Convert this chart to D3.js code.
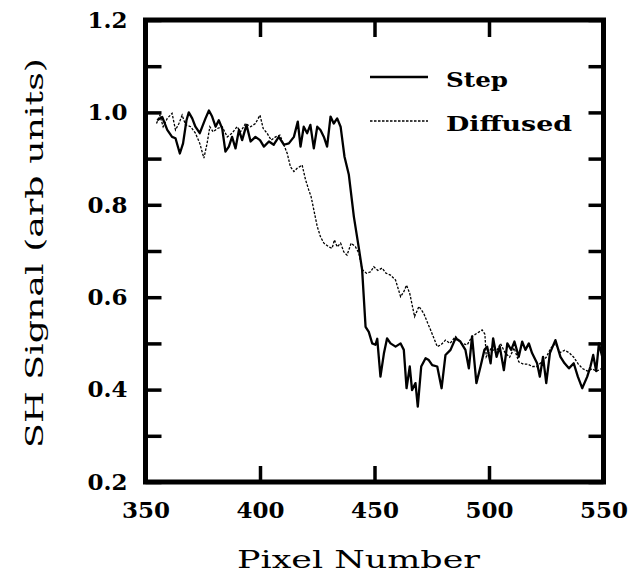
<!DOCTYPE html>
<html>
<head>
<meta charset="utf-8">
<script src="https://cdn.jsdelivr.net/npm/d3@7"></script>
<style>
  body { margin: 0; background: #fff; }
  svg text { font-family: "DejaVu Serif", "Liberation Serif", serif; fill: #000; }
</style>
</head>
<body>
<div id="chart"></div>
<script>
// Step profile (solid)
const stepPixel = [355.1, 357.3, 359.5, 361.6, 363.1, 365, 366.4, 367.9, 368.9, 370.4, 371.8, 373.7, 376.2, 377.7, 379.1, 380.6, 382, 383.5, 384.9, 386.4, 387.8, 389.3, 390.8, 392.2, 394.1, 395.9, 398, 400, 401.7, 403.9, 406, 408.2, 410.4, 412.6, 414.8, 416.5, 417.7, 419.1, 420.6, 422, 423.5, 425, 426.4, 427.9, 429.3, 430.8, 432.2, 433.7, 435.2, 436.9, 438.8, 441, 443.2, 444.6, 446.1, 447.5, 449, 450.4, 451.2, 452.6, 454.1, 455.5, 457, 459.2, 461.4, 462.8, 464, 465.4, 466.4, 467.9, 468.9, 470.4, 472.3, 473.7, 475.2, 477.4, 479.3, 481, 483.2, 485.4, 487.5, 489.7, 491.2, 492.6, 494.5, 496.3, 498, 499.2, 500.7, 501.8, 503.3, 504.7, 506.5, 508, 509.7, 511.1, 513, 514.5, 515.9, 517.4, 518.8, 521, 522.2, 523.6, 525, 526.6, 529, 531.2, 533, 534.9, 537, 538.8, 540.7, 542.9, 544.3, 545.5, 546.8, 548, 549.5];
const stepSignal = [0.983, 0.99, 0.962, 0.947, 0.944, 0.911, 0.933, 0.983, 1.0, 0.987, 0.969, 0.955, 0.987, 1.004, 0.991, 0.969, 0.983, 0.965, 0.915, 0.926, 0.947, 0.922, 0.962, 0.94, 0.973, 0.937, 0.947, 0.94, 0.926, 0.937, 0.93, 0.947, 0.93, 0.933, 0.947, 0.98, 0.926, 0.969, 0.955, 0.973, 0.922, 0.969, 0.962, 0.947, 0.926, 0.991, 0.976, 0.987, 0.969, 0.904, 0.865, 0.774, 0.705, 0.659, 0.536, 0.525, 0.50, 0.497, 0.51, 0.428, 0.478, 0.511, 0.50, 0.493, 0.50, 0.486, 0.403, 0.45, 0.399, 0.414, 0.363, 0.45, 0.468, 0.464, 0.453, 0.45, 0.403, 0.475, 0.486, 0.511, 0.504, 0.486, 0.446, 0.515, 0.414, 0.45, 0.486, 0.493, 0.457, 0.511, 0.471, 0.493, 0.442, 0.50, 0.486, 0.504, 0.471, 0.504, 0.486, 0.50, 0.479, 0.457, 0.428, 0.471, 0.414, 0.479, 0.507, 0.471, 0.457, 0.446, 0.457, 0.428, 0.403, 0.428, 0.45, 0.475, 0.44, 0.50, 0.47];

// Diffused profile (dashed)
const diffPixel = [354.8, 356.3, 357.7, 359.5, 361.6, 363.1, 364.6, 366, 367.5, 369.7, 371.8, 373.7, 375.5, 376.9, 378.1, 379.5, 381.3, 383.5, 385.7, 387.8, 390, 391.5, 393.7, 395.9, 398, 400, 401.4, 403.1, 404.9, 406.8, 408.7, 410.4, 411.9, 413.3, 414.8, 416.2, 418.4, 419.9, 421.3, 422.3, 423.5, 425, 426.4, 427.9, 430, 431.5, 432.5, 433.7, 435.2, 436.6, 438, 439.8, 441.7, 443.2, 444.6, 446.5, 448.3, 449.7, 451.5, 453.3, 455, 457, 459.2, 461.4, 462.8, 464, 465.4, 467.5, 469.4, 471.5, 473.3, 474.5, 477.4, 479, 481, 483, 485.4, 488, 490.5, 492.6, 494.8, 497, 498.2, 498.8, 501, 503, 505, 507, 509, 511, 513, 515, 517, 519, 521, 523, 525, 527, 529, 531, 533, 535, 537, 539, 541, 543, 545, 547, 549, 550];
const diffSignal = [0.976, 0.994, 0.969, 0.987, 0.998, 0.962, 0.976, 0.994, 0.973, 0.969, 0.955, 0.933, 0.901, 0.933, 0.969, 0.958, 0.965, 0.969, 0.947, 0.955, 0.969, 0.958, 0.976, 0.969, 0.976, 0.994, 0.965, 0.955, 0.94, 0.947, 0.951, 0.93, 0.911, 0.882, 0.872, 0.879, 0.886, 0.854, 0.832, 0.818, 0.789, 0.753, 0.731, 0.717, 0.709, 0.706, 0.724, 0.709, 0.717, 0.698, 0.691, 0.717, 0.709, 0.695, 0.66, 0.652, 0.655, 0.666, 0.658, 0.663, 0.652, 0.648, 0.637, 0.601, 0.612, 0.626, 0.608, 0.558, 0.58, 0.565, 0.543, 0.529, 0.493, 0.497, 0.507, 0.50, 0.515, 0.50, 0.497, 0.515, 0.522, 0.529, 0.52, 0.471, 0.49, 0.48, 0.50, 0.48, 0.47, 0.49, 0.46, 0.455, 0.455, 0.45, 0.45, 0.46, 0.47, 0.49, 0.50, 0.48, 0.485, 0.48, 0.47, 0.455, 0.445, 0.44, 0.445, 0.44, 0.445, 0.44];

// ticks
const xTickValues = [350, 400, 450, 500, 550];
const yTickValues = [0.2, 0.3, 0.4, 0.5, 0.6, 0.7, 0.8, 0.9, 1.0, 1.1, 1.2];
const yLabelValues = [0.2, 0.4, 0.6, 0.8, 1.0, 1.2];
const legendNames = ["Step", "Diffused"];

// Dimensions
const margin = {top: 20, right: 40.5, bottom: 95, left: 145.5},
  width = 644 - margin.left - margin.right,
  height = 577 - margin.top - margin.bottom;

const svg = d3.select("#chart")
  .append("svg")
    .attr("width", 644)
    .attr("height", 577)
  .append("g")
    .attr("transform", `translate(${margin.left},${margin.top})`);

const x = d3.scaleLinear().domain([350, 550]).range([0, width]);
const y = d3.scaleLinear().domain([0.2, 1.2]).range([height, 0]);

// inward ticks on all four sides
const isLabel = v => yLabelValues.some(l => Math.abs(l - v) < 1e-6);

const gLeft = svg.append("g")
  .call(d3.axisLeft(y).tickValues(yTickValues).tickSize(-16).tickPadding(18)
    .tickFormat(d => isLabel(d) ? d3.format(".1f")(d) : ""));
const gBottom = svg.append("g")
  .attr("transform", `translate(0,${height})`)
  .call(d3.axisBottom(x).tickValues(xTickValues).tickSize(-16).tickPadding(20)
    .tickFormat(d3.format("d")));
const gTop = svg.append("g")
  .call(d3.axisTop(x).tickValues(xTickValues).tickSize(-17).tickFormat(""));
const gRight = svg.append("g")
  .attr("transform", `translate(${width},0)`)
  .call(d3.axisRight(y).tickValues(yTickValues).tickSize(-15).tickFormat(""));

[gLeft, gBottom, gTop, gRight].forEach(g => {
  g.select(".domain").remove();
  g.selectAll(".tick line").attr("stroke", "#000").attr("stroke-width", 3.5);
  g.selectAll(".tick text")
    .style("font-family", "'DejaVu Serif', serif")
    .style("font-weight", "bold")
    .style("font-size", "23px")
    .attr("fill", "#000");
});

// frame
svg.append("rect")
  .attr("x", 0)
  .attr("y", 0)
  .attr("width", width)
  .attr("height", height)
  .attr("fill", "none")
  .attr("stroke", "#000")
  .attr("stroke-width", 5);

// lines
const line = d3.line()
  .x(d => x(d[0]))
  .y(d => y(d[1]));

const diffData = diffPixel.map((p, i) => [p, diffSignal[i]]);
const stepData = stepPixel.map((p, i) => [p, stepSignal[i]]);

svg.append("path")
  .datum(diffData)
  .attr("d", line)
  .attr("fill", "none")
  .attr("stroke", "#000")
  .attr("stroke-width", 1.3)
  .attr("stroke-dasharray", "2.5,1.5");

svg.append("path")
  .datum(stepData)
  .attr("d", line)
  .attr("fill", "none")
  .attr("stroke", "#000")
  .attr("stroke-width", 2.3)
  .attr("stroke-linejoin", "round");

// legend
const legend = svg.append("g")
  .attr("transform", `translate(${370 - margin.left},${77 - margin.top})`);

const legendItem = legend.selectAll(".legend-item")
  .data(legendNames)
  .enter().append("g")
    .attr("class", "legend-item")
    .attr("transform", (d, i) => `translate(0, ${i * 44})`);

legendItem.append("line")
  .attr("x1", 0)
  .attr("x2", 58)
  .attr("y1", 0)
  .attr("y2", 0)
  .attr("stroke", "#000")
  .attr("stroke-width", (d, i) => i === 0 ? 2.3 : 1.3)
  .attr("stroke-dasharray", (d, i) => i === 0 ? null : "2.5,1.5");

legendItem.append("text")
  .attr("x", 76)
  .attr("y", 10)
  .attr("textLength", (d, i) => i === 0 ? 62 : 126)
  .attr("lengthAdjust", "spacingAndGlyphs")
  .style("font-weight", "bold")
  .style("font-size", "21px")
  .text(d => d);

// axis titles
svg.append("text")
  .attr("x", 237 - margin.left)
  .attr("y", 568 - margin.top)
  .attr("textLength", 243)
  .attr("lengthAdjust", "spacingAndGlyphs")
  .style("font-size", "25px")
  .text("Pixel Number");

svg.append("text")
  .attr("transform", `translate(${43 - margin.left},${448 - margin.top}) rotate(-90)`)
  .attr("x", 0)
  .attr("y", 0)
  .attr("textLength", 390)
  .attr("lengthAdjust", "spacingAndGlyphs")
  .style("font-size", "25px")
  .text("SH Signal (arb units)");
</script>
</body>
</html>
